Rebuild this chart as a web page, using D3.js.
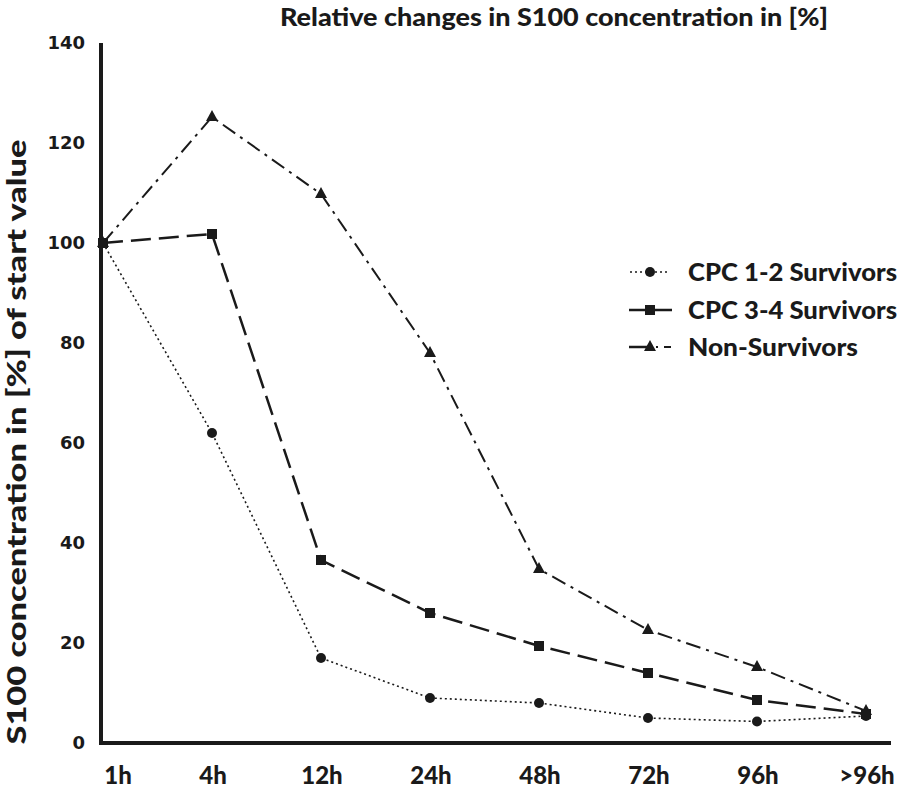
<!DOCTYPE html>
<html><head><meta charset="utf-8">
<script src="https://cdn.jsdelivr.net/npm/d3@7"></script>
<style>body{margin:0;background:#fff}svg{display:block}</style>
</head><body>
<script>
const categories = ["1h","4h","12h","24h","48h","72h","96h",">96h"];
const cpc12 = [100, 62, 17, 9, 8, 5, 4.3, 5.4];
const cpc34 = [100, 101.8, 36.6, 26, 19.4, 14, 8.6, 5.8];
const nonSurv = [100, 125.2, 109.8, 78, 34.8, 22.6, 15.2, 6.4];
const yTicks = [0,20,40,60,80,100,120,140];
const seriesNames = ["CPC 1-2 Survivors","CPC 3-4 Survivors","Non-Survivors"];
const legendWidths = [209, 209, 170];

const W=904,H=788;
const svg=d3.select("body").append("svg").attr("width",W).attr("height",H);
const x=d3.scalePoint().domain(categories).range([103,866]);
const y=d3.scaleLinear().domain([0,140]).range([743,43]);
const ink="#1a1a1a";
const lblFont="Lato, 'Open Sans', sans-serif";

// title
svg.append("text").attr("x",554).attr("y",26).attr("text-anchor","middle")
  .attr("font-family",lblFont).attr("font-weight","900").attr("font-size",25)
  .attr("textLength",548).attr("lengthAdjust","spacingAndGlyphs").attr("fill",ink)
  .text("Relative changes in S100 concentration in [%]");

// y axis title
svg.append("text").attr("transform","translate(26,442) rotate(-90)").attr("text-anchor","middle")
  .attr("font-family",lblFont).attr("font-weight","900").attr("font-size",26)
  .attr("textLength",605).attr("lengthAdjust","spacingAndGlyphs").attr("fill",ink)
  .text("S100 concentration in [%] of start value");

// axes (drawn as filled bars)
svg.append("rect").attr("x",99).attr("y",43).attr("width",4).attr("height",702).attr("fill",ink);
svg.append("rect").attr("x",99).attr("y",741).attr("width",792).attr("height",4).attr("fill",ink);

// y tick labels
svg.append("g").selectAll("text").data(yTicks).join("text")
  .attr("x",85).attr("y",d=>y(d)).attr("dy","0.35em").attr("text-anchor","end")
  .attr("font-family","'DejaVu Sans', sans-serif").attr("font-weight","bold").attr("font-size",18)
  .attr("fill",ink).text(d=>d);

// x tick labels
svg.append("g").selectAll("text").data(categories).join("text")
  .attr("x",(d,i)=>i===0?118:x(d)+1).attr("y",784).attr("text-anchor","middle")
  .attr("font-family",lblFont).attr("font-weight","900").attr("font-size",24)
  .attr("fill",ink).text(d=>d);

const styles=[
  {data:cpc12,dash:"2,3",w:1.6,marker:"circle"},
  {data:cpc34,dash:"20,8",w:2.5,marker:"square"},
  {data:nonSurv,dash:"15,6,3,6",w:2,marker:"triangle"}
];
const line=d3.line().x((d,i)=>x(categories[i])).y(d=>y(d));
function marker(g,type,cx,cy){
  if(type==="circle") g.append("circle").attr("cx",cx).attr("cy",cy).attr("r",5).attr("fill",ink);
  else if(type==="square") g.append("rect").attr("x",cx-5).attr("y",cy-5).attr("width",10).attr("height",10).attr("fill",ink);
  else g.append("path").attr("d",`M${cx},${cy-7}L${cx+6},${cy+4}L${cx-6},${cy+4}Z`).attr("fill",ink);
}
styles.forEach(s=>{
  svg.append("path").attr("d",line(s.data)).attr("fill","none").attr("stroke",ink)
    .attr("stroke-width",s.w).attr("stroke-dasharray",s.dash);
  const g=svg.append("g");
  s.data.forEach((v,i)=>marker(g,s.marker,x(categories[i]),y(v)));
});

// legend
const legY=[272,310,347];
styles.forEach((s,i)=>{
  const g=svg.append("g");
  if(i===0){
    g.append("line").attr("x1",630).attr("x2",670).attr("y1",legY[i]).attr("y2",legY[i]).attr("stroke",ink).attr("stroke-width",1.6).attr("stroke-dasharray","2,3");
  } else if(i===1){
    g.append("line").attr("x1",629).attr("x2",672).attr("y1",legY[i]).attr("y2",legY[i]).attr("stroke",ink).attr("stroke-width",2.5);
  } else {
    g.append("line").attr("x1",629).attr("x2",650).attr("y1",legY[i]).attr("y2",legY[i]).attr("stroke",ink).attr("stroke-width",2.5);
    g.append("line").attr("x1",656).attr("x2",658).attr("y1",legY[i]).attr("y2",legY[i]).attr("stroke",ink).attr("stroke-width",2);
    g.append("line").attr("x1",664).attr("x2",671).attr("y1",legY[i]).attr("y2",legY[i]).attr("stroke",ink).attr("stroke-width",2);
  }
  marker(g,s.marker,650,legY[i]);
  g.append("text").attr("x",688).attr("y",legY[i]).attr("dy","0.36em")
    .attr("font-family",lblFont).attr("font-weight","900").attr("font-size",25).attr("fill",ink)
    .attr("textLength",legendWidths[i]).attr("lengthAdjust","spacingAndGlyphs")
    .text(seriesNames[i]);
});
</script>
</body></html>
